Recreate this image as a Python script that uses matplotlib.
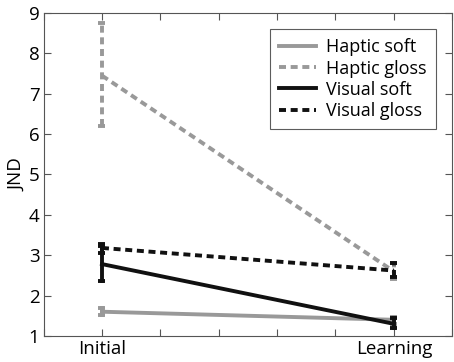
import matplotlib
matplotlib.use("Agg")
import matplotlib.pyplot as plt

conditions = ["Initial", "Learning"]
x_pos = [1, 2]

haptic_soft = [1.60, 1.40]
haptic_soft_lo = [1.52, 1.30]
haptic_soft_hi = [1.68, 1.47]

haptic_gloss = [7.45, 2.60]
haptic_gloss_lo = [6.20, 2.42]
haptic_gloss_hi = [8.75, 2.80]

visual_soft = [2.78, 1.30]
visual_soft_lo = [2.35, 1.20]
visual_soft_hi = [3.22, 1.45]

visual_gloss = [3.18, 2.62]
visual_gloss_lo = [3.05, 2.45]
visual_gloss_hi = [3.28, 2.80]

plt.rcParams['font.family'] = ['Open Sans', 'DejaVu Sans']

fig = plt.figure(figsize=(4.54, 3.62), dpi=100)
ax = fig.add_axes([0.096, 0.072, 0.900, 0.892])

gray = '#999999'
dash = (0, (1.8, 1.2))
series = [
    ("Haptic soft", haptic_soft, haptic_soft_lo, haptic_soft_hi, gray, '-'),
    ("Haptic gloss", haptic_gloss, haptic_gloss_lo, haptic_gloss_hi, gray, dash),
    ("Visual soft", visual_soft, visual_soft_lo, visual_soft_hi, '#111111', '-'),
    ("Visual gloss", visual_gloss, visual_gloss_lo, visual_gloss_hi, '#111111', dash),
]
for label, y, lo, hi, c, ls in series:
    ax.plot(x_pos, y, color=c, linestyle=ls, linewidth=2.8, label=label)
    for xi, l, h in zip(x_pos, lo, hi):
        ax.plot([xi, xi], [l, h], color=c, linestyle=ls, linewidth=2.8)
        for v in (l, h):
            ax.plot([xi - 0.012, xi + 0.012], [v, v], color=c, linewidth=2.8, solid_capstyle='butt')

ax.set_xlim(0.8, 2.2)
ax.set_ylim(1, 9)
ax.set_xticks([0.8, 1.0, 1.2, 1.4, 1.6, 1.8, 2.0, 2.2])
ax.set_xticklabels(["", conditions[0], "", "", "", "", conditions[1], ""])
ax.set_yticks(range(1, 10))
ax.tick_params(direction='in', length=5, width=0.8, color='#555555', labelsize=13.5,
               top=True, right=True, pad=3)
for s in ax.spines.values():
    s.set_color('#555555')
    s.set_linewidth(0.8)
ax.set_ylabel("JND", fontsize=13.5, labelpad=2)

leg = ax.legend(loc='upper right', fontsize=13, frameon=True, fancybox=False,
                edgecolor='#333333', handlelength=2.0, labelspacing=0.18,
                borderaxespad=0.9, handletextpad=0.6, borderpad=0.5)
leg.get_frame().set_linewidth(0.8)

fig.savefig("out.png", dpi=100)
